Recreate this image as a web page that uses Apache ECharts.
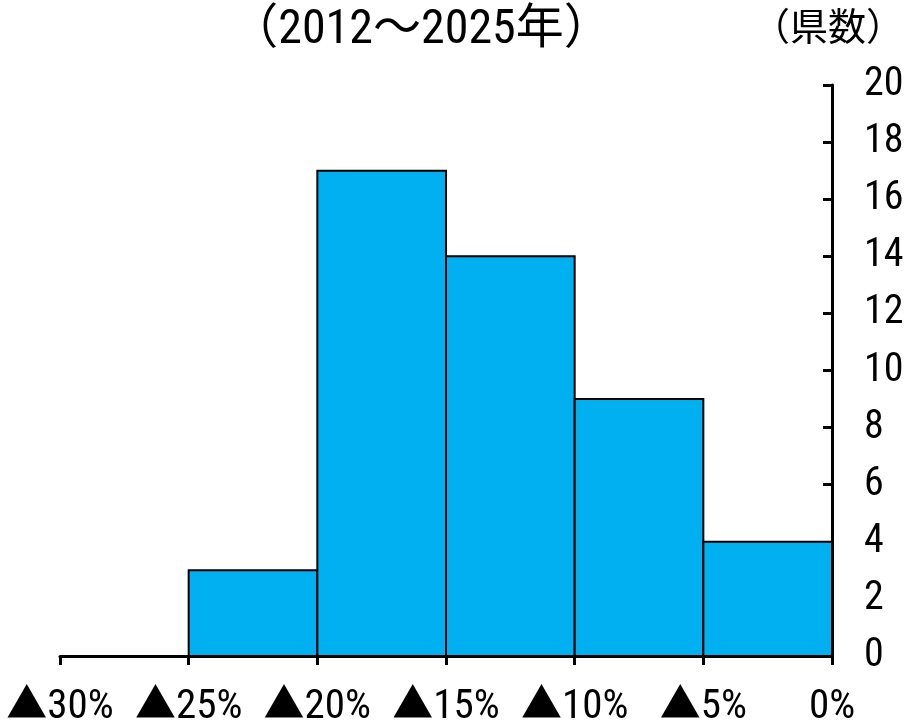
<!DOCTYPE html>
<html>
<head>
<meta charset="utf-8">
<script src="https://cdn.jsdelivr.net/npm/echarts@6/dist/echarts.min.js"></script>
<style>
  html, body { margin: 0; padding: 0; background: #fff; }
  #chart { width: 906px; height: 723px; }
</style>
</head>
<body>
<div id="chart"></div>
<script>
// Histogram of prefectures by rate of change, 2012–2025
const binStarts = [-30, -25, -20, -15, -10, -5];
const binEnds   = [-25, -20, -15, -10, -5, 0];
const counts    = [0, 3, 17, 14, 9, 4];
const xTickValues = [-30, -25, -20, -15, -10, -5, 0];
const xTickLabels = ['▲30%', '▲25%', '▲20%', '▲15%', '▲10%', '▲5%', '0%'];
const titleText = '（2012～2025年）';
const unitText = '（県数）';

const FONT = '"Roboto Condensed", "Noto Sans CJK JP", sans-serif';
const barData = binStarts.map((s, i) => [s, binEnds[i], counts[i]]);

const chart = echarts.init(document.getElementById('chart'));
chart.setOption({
  backgroundColor: '#ffffff',
  animation: false,
  title: [
    { text: titleText, left: 416, top: 2, textAlign: 'center',
      textStyle: { fontFamily: FONT, fontSize: 48, fontWeight: 'normal', color: '#000' } },
    { text: unitText, left: 823, top: 6, textAlign: 'center',
      textStyle: { fontFamily: FONT, fontSize: 38, fontWeight: 'normal', color: '#000' } }
  ],
  grid: { left: 60, right: 74, top: 85, bottom: 67, outerBoundsMode: 'none' },
  xAxis: {
    type: 'value', min: -30, max: 0, interval: 5,
    axisLine: { show: true, lineStyle: { color: '#000', width: 3 } },
    axisTick: { show: true, inside: false, length: 9, lineStyle: { color: '#000', width: 3 } },
    splitLine: { show: false },
    axisLabel: {
      margin: 31, fontFamily: FONT, fontSize: 41, color: '#000',
      formatter: v => xTickLabels[xTickValues.indexOf(v)]
    }
  },
  yAxis: {
    type: 'value', position: 'right', min: 0, max: 20, interval: 2,
    axisLine: { show: true, lineStyle: { color: '#000', width: 3 } },
    axisTick: { show: true, inside: true, length: 9, lineStyle: { color: '#000', width: 3 } },
    splitLine: { show: false },
    axisLabel: { margin: 32, fontFamily: FONT, fontSize: 40, color: '#000' }
  },
  series: [{
    type: 'custom',
    data: barData,
    encode: { x: [0, 1], y: 2 },
    renderItem: function (params, api) {
      const p0 = api.coord([api.value(0), api.value(2)]);
      const p1 = api.coord([api.value(1), 0]);
      const h = p1[1] - p0[1];
      if (h <= 0) return null;
      return {
        type: 'rect',
        shape: { x: p0[0], y: p0[1], width: p1[0] - p0[0], height: h },
        style: { fill: '#00B0F0', stroke: '#000', lineWidth: 2 }
      };
    },
    z: 1
  }]
});
</script>
</body>
</html>
